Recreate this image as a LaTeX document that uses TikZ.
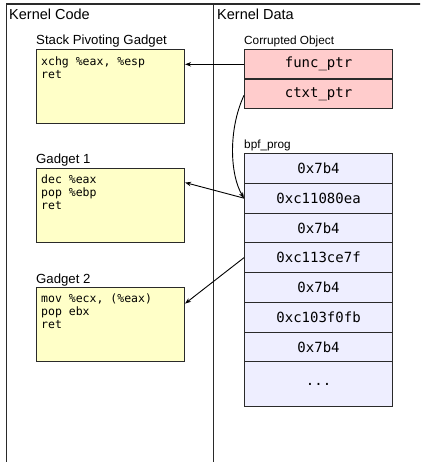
\documentclass[tikz,border=0pt]{standalone}
\usepackage{fontspec}
\setmainfont{Liberation Sans}
\newfontfamily\codefont{DejaVu Sans Mono}
\usetikzlibrary{arrows.meta}

\definecolor{gadgetfill}{HTML}{FFFFC8}
\definecolor{objfill}{HTML}{FFCCCC}
\definecolor{progfill}{HTML}{EEEEFF}
\definecolor{edgecol}{HTML}{2A2A2A}

\begin{document}
\begin{tikzpicture}[x=1pt,y=1pt,
  frameline/.style={draw=edgecol, line width=1.4pt},
  gadgetbox/.style={draw=edgecol, line width=1.1pt, fill=gadgetfill,
    minimum width=148pt, minimum height=74pt, inner sep=0pt, anchor=north west},
  codetext/.style={inner sep=0pt, anchor=north west, align=left,
    font=\codefont\fontsize{11.5}{12.8}\selectfont},
  objcell/.style={draw=edgecol, line width=1.1pt, fill=objfill,
    minimum width=148pt, minimum height=29.5pt, inner sep=0pt, anchor=north west,
    font=\codefont\fontsize{14}{16}\selectfont},
  progcell/.style={draw=edgecol, line width=1.1pt, fill=progfill,
    minimum width=148pt, minimum height=29.75pt, inner sep=0pt, anchor=north west,
    font=\codefont\fontsize{14}{16}\selectfont},
  title/.style={inner sep=0pt, anchor=base west, font=\fontsize{14.5}{16}\selectfont},
  caption/.style={inner sep=0pt, anchor=base west, font=\fontsize{13.2}{15}\selectfont},
  smallcaption/.style={inner sep=0pt, anchor=base west, font=\fontsize{11.8}{13}\selectfont},
  ptr/.style={-{Stealth[length=6pt,width=4.5pt]}, line width=0.9pt, draw=black}
]
\useasboundingbox (0,0) rectangle (420,-462);
\clip (0,0) rectangle (420,-462);

% outer frame and column divider
\draw[frameline] (6.5,-470) -- (6.5,-4) -- (430,-4);
\draw[frameline] (213.5,-4) -- (213.5,-470);

% column headings
\node[title] (hcode) at (9,-20) {Kernel Code};
\node[title] (hdata) at (217,-20) {Kernel Data};

% gadgets in kernel code
\node[caption] (lsp) at (36,-45) {Stack Pivoting Gadget};
\node[gadgetbox] (sp) at (36,-49) {};
\node[codetext] (spcode) at (41,-56.5) {xchg \%eax, \%esp\\ret};

\node[caption] (lg1) at (36,-164) {Gadget 1};
\node[gadgetbox] (g1) at (36,-168) {};
\node[codetext] (g1code) at (41,-174.5) {dec \%eax\\pop \%ebp\\ret};

\node[caption] (lg2) at (36,-283) {Gadget 2};
\node[gadgetbox] (g2) at (36,-287) {};
\node[codetext] (g2code) at (41,-293.5) {mov \%ecx, (\%eax)\\pop ebx\\ret};

% corrupted object
\node[smallcaption] (lobj) at (244,-45) {Corrupted Object};
\node[objcell] (func) at (244,-49) {func\_ptr};
\node[objcell] (ctxt) at (244,-78.5) {ctxt\_ptr};

% bpf_prog image
\node[smallcaption] (lprog) at (244,-148.5) {bpf\_prog};
\node[progcell] (c1) at (244,-153) {0x7b4};
\node[progcell] (c2) at (244,-182.75) {0xc11080ea};
\node[progcell] (c3) at (244,-212.5) {0x7b4};
\node[progcell] (c4) at (244,-242.25) {0xc113ce7f};
\node[progcell] (c5) at (244,-272) {0x7b4};
\node[progcell] (c6) at (244,-301.75) {0xc103f0fb};
\node[progcell] (c7) at (244,-331.5) {0x7b4};
\node[progcell, minimum height=44.75pt] (c8) at (244,-361.25) {...};

% pointers
\draw[ptr] (func.west) -- (func.west -| sp.east);
\draw[ptr] ([yshift=-1.5pt]ctxt.west) .. controls (228,-130) and (230,-175) .. (c2.west);
\draw[ptr] (c2.west) -- ([yshift=23pt]g1.east);
\draw[ptr] (c4.west) -- ([yshift=21pt]g2.east);
\end{tikzpicture}
\end{document}
